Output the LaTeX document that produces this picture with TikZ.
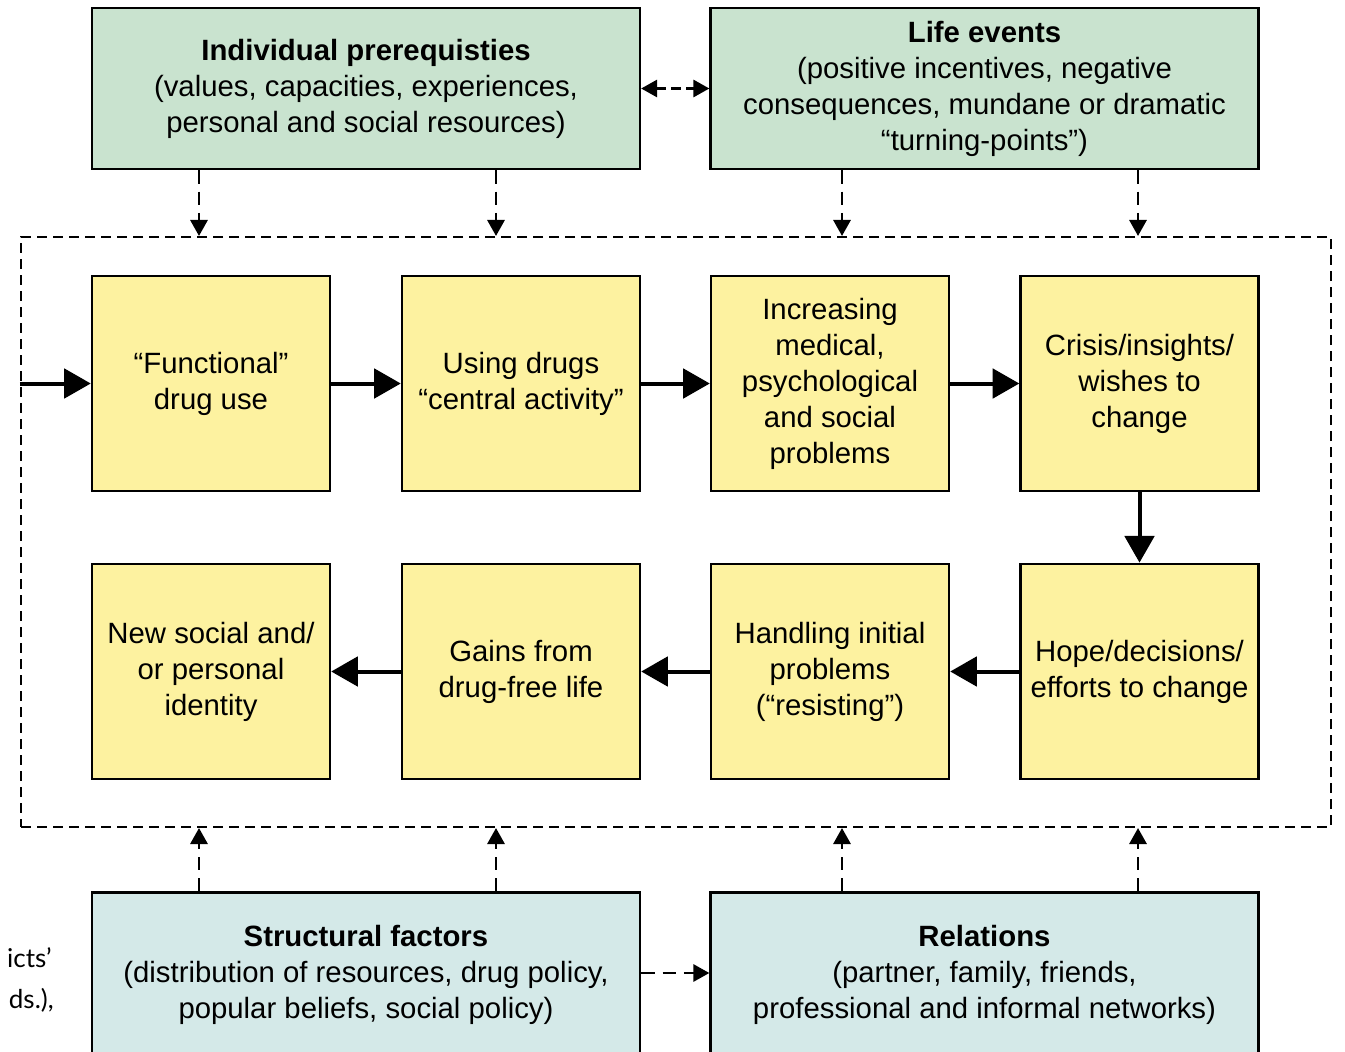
\documentclass[tikz,border=0pt]{standalone}
\usepackage{fontspec}
\setmainfont{Liberation Sans}
\newfontfamily\cutfont{Lato}
\usetikzlibrary{arrows.meta}
\definecolor{boxgreen}{HTML}{C9E3CF}
\definecolor{boxyellow}{HTML}{FDF2A0}
\definecolor{boxblue}{HTML}{D4E9E8}
\tikzset{
  basebox/.style={draw=black, line width=1.8pt, align=center, inner sep=0pt,
    font=\fontsize{22}{27}\selectfont},
  greenbox/.style={basebox, fill=boxgreen, minimum width=411pt, minimum height=120.75pt},
  bluebox/.style={basebox, fill=boxblue, minimum width=411pt, minimum height=123pt},
  yellowbox/.style={basebox, fill=boxyellow, minimum width=178.5pt, minimum height=161.5pt},
  framebox/.style={draw=black, line width=1.6pt, dash pattern=on 7.5pt off 4.5pt, inner sep=0pt,
    minimum width=982.5pt, minimum height=442.5pt},
  flow/.style={line width=3pt, -{Triangle[length=20pt, width=22pt]}},
  infl/.style={line width=1.6pt, dash pattern=on 10pt off 6pt, -{Triangle[length=12pt, width=13pt]}},
  infltwo/.style={line width=1.6pt, dash pattern=on 7pt off 4pt, {Triangle[length=12pt, width=13pt]}-{Triangle[length=12pt, width=13pt]}},
  cuttext/.style={font=\cutfont\fontsize{19.5}{27}\selectfont, inner sep=0pt, anchor=east}
}
\begin{document}
\begin{tikzpicture}[x=0.75pt, y=-0.75pt]
\useasboundingbox (0,0) rectangle (1345,1052);
\fill[white] (0,0) rectangle (1345,1052);

% container
\node[framebox] (frame) at (676,532) {};

% top boxes
\node[greenbox] (ip) at (366,88.5) {\textbf{Individual prerequisties}\\(values, capacities, experiences,\\personal and social resources)};
\node[greenbox] (le) at (984.5,88.5) {\textbf{Life events}\\(positive incentives, negative\\consequences, mundane or dramatic\\“turning-points”)};

% bottom boxes
\node[bluebox] (sf) at (366,974.5) {\textbf{Structural factors}\\(distribution of resources, drug policy,\\popular beliefs, social policy)};
\node[bluebox] (re) at (984.5,974.5) {\textbf{Relations}\\(partner, family, friends,\\professional and informal networks)};

% process boxes
\node[yellowbox] (b1) at (211,383.5) {“Functional”\\drug use};
\node[yellowbox] (b2) at (521,383.5) {Using drugs\\“central activity”};
\node[yellowbox] (b3) at (830,383.5) {Increasing\\medical,\\psychological\\and social\\problems};
\node[yellowbox] (b4) at (1139.5,383.5) {Crisis/insights/\\wishes to\\change};
\node[yellowbox] (b5) at (1139.5,671.5) {Hope/decisions/\\efforts to change};
\node[yellowbox] (b6) at (830,671.5) {Handling initial\\problems\\(“resisting”)};
\node[yellowbox] (b7) at (521,671.5) {Gains from\\drug-free life};
\node[yellowbox] (b8) at (211,671.5) {New social and/\\or personal\\identity};

% cut-off margin text
\node[cuttext] (m1) at (52,958) {icts’};
\node[cuttext] (m2) at (54,1000) {ds.),};

% solid flow
\draw[flow] (frame.west |- b1.west) -- (b1.west);
\draw[flow] (b1) -- (b2);
\draw[flow] (b2) -- (b3);
\draw[flow] (b3) -- (b4);
\draw[flow] (b4) -- (b5);
\draw[flow] (b5) -- (b6);
\draw[flow] (b6) -- (b7);
\draw[flow] (b7) -- (b8);

% influence columns
\coordinate (c1) at (199,0);
\coordinate (c2) at (496,0);
\coordinate (c3) at (842,0);
\coordinate (c4) at (1138,0);
\draw[infl] (c1 |- ip.south) -- (c1 |- frame.north);
\draw[infl] (c2 |- ip.south) -- (c2 |- frame.north);
\draw[infl] (c3 |- le.south) -- (c3 |- frame.north);
\draw[infl] (c4 |- le.south) -- (c4 |- frame.north);
\draw[infl] (c1 |- sf.north) -- (c1 |- frame.south);
\draw[infl] (c2 |- sf.north) -- (c2 |- frame.south);
\draw[infl] (c3 |- re.north) -- (c3 |- frame.south);
\draw[infl] (c4 |- re.north) -- (c4 |- frame.south);

% horizontal links
\draw[infltwo] (ip.east) -- (le.west);
\coordinate (h) at (0,973);
\draw[infl] (sf.east |- h) -- (re.west |- h);
\end{tikzpicture}
\end{document}
